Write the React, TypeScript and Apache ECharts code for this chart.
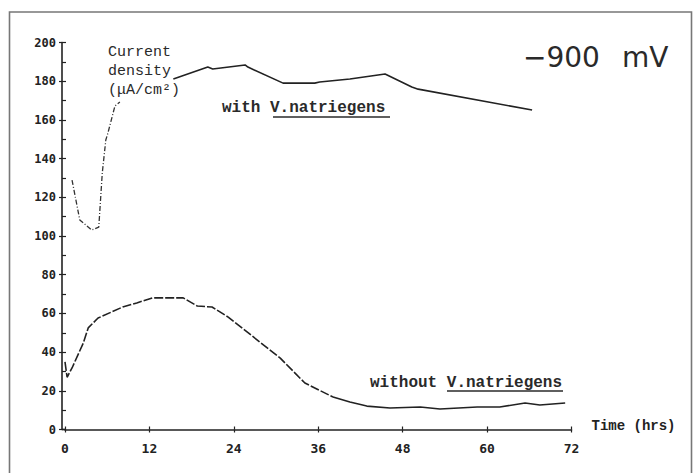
import React, { useEffect, useRef } from "react";
import * as echarts from "echarts";

// Time (hrs) and current density (µA/cm²)
const withTimeDashed = [1.0, 2.1, 3.8, 4.8, 5.3, 5.8, 6.1, 7.1, 7.8];
const withValDashed = [128.9, 108.3, 103.1, 104.6, 132.6, 149.6, 153.2, 167.2, 169.2];
const withTimeSolid = [15.4, 20.3, 21.0, 25.6, 26.0, 31.0, 35.5, 36.2, 40.5, 45.5, 49.3, 50.2, 66.4];
const withValSolid = [181.1, 187.3, 186.3, 188.4, 187.3, 179.0, 179.0, 179.6, 181.1, 183.7, 177.0, 175.9, 165.1];

const withoutTimeDashed = [0.0, 0.3, 1.0, 2.6, 3.3, 4.7, 8.2, 10.2, 12.4, 14.5, 16.8, 18.8, 20.9, 23.2, 27.7, 30.6, 34.1, 38.1];
const withoutValDashed = [34.9, 27.0, 31.8, 44.7, 52.5, 57.6, 63.3, 65.4, 68.0, 68.0, 68.0, 63.8, 63.3, 58.1, 45.2, 36.9, 24.0, 16.8];
const withoutTimeSolid = [38.1, 40.5, 42.9, 46.2, 50.5, 53.3, 58.6, 61.8, 65.4, 67.5, 71.1];
const withoutValSolid = [16.8, 14.2, 12.1, 11.1, 11.6, 10.6, 11.6, 11.6, 13.7, 12.7, 13.7];

const xTicks = [0, 12, 24, 36, 48, 60, 72];
const yTicks = [0, 20, 40, 60, 80, 100, 120, 140, 160, 180, 200];

const pairs = (xs: number[], ys: number[]) => xs.map((x, i) => [x, ys[i]]);

const MONO = "'DejaVu Sans Mono', monospace";
const COURIER = "'Liberation Mono', monospace";
const INK = "#222";

export default function App() {
  const ref = useRef<HTMLDivElement>(null);
  useEffect(() => {
    if (!ref.current) return;
    const chart = echarts.init(ref.current, undefined, { renderer: "svg" });
    const lineBase = { type: "line", showSymbol: false, symbol: "none", smooth: false, silent: true };
    chart.setOption({
      animation: false,
      backgroundColor: "#ffffff",
      grid: { left: 65, right: 121.5, top: 42.5, bottom: 43.5, containLabel: false },
      xAxis: [
        {
          type: "value",
          min: xTicks[0],
          max: xTicks[xTicks.length - 1],
          interval: 12,
          splitLine: { show: false },
          axisLine: { show: true, onZero: false, lineStyle: { color: INK, width: 1.6 } },
          axisTick: { show: true, length: 3, lineStyle: { color: INK, width: 1.2 } },
          axisLabel: { margin: 12, color: INK, fontFamily: MONO, fontSize: 13, fontWeight: "bold" },
          name: "Time (hrs)",
          nameLocation: "end",
          nameGap: 20,
          nameTextStyle: { color: INK, fontFamily: COURIER, fontSize: 14, fontWeight: "bold", verticalAlign: "bottom", padding: [0, 0, -3, 0] },
        },
        {
          type: "value",
          min: 0,
          max: 72,
          interval: 12,
          position: "bottom",
          splitLine: { show: false },
          axisLine: { show: false, onZero: false },
          axisTick: { show: true, inside: true, length: 3, lineStyle: { color: INK, width: 1.2 } },
          axisLabel: { show: false },
        },
      ],
      yAxis: [
        {
          type: "value",
          min: 0,
          max: 200,
          interval: 20,
          offset: 3,
          splitLine: { show: false },
          axisLine: { show: true, onZero: false, lineStyle: { color: INK, width: 1.6 } },
          axisTick: { show: true, length: 3, lineStyle: { color: INK, width: 1.2 } },
          axisLabel: {
            margin: 6,
            color: INK,
            fontFamily: MONO,
            fontSize: 12,
            fontWeight: "bold",
            formatter: (v: number) => (yTicks.includes(v) ? String(v) : ""),
          },
        },
        {
          type: "value",
          min: 0,
          max: 200,
          interval: 10,
          offset: 3,
          position: "left",
          splitLine: { show: false },
          axisLine: { show: false, onZero: false },
          axisTick: { show: true, inside: true, length: 4, lineStyle: { color: INK, width: 1.2 } },
          axisLabel: { show: false },
        },
      ],
      series: [
        {
          ...lineBase,
          name: "with V.natriegens (early)",
          data: pairs(withTimeDashed, withValDashed),
          lineStyle: { color: "#333", width: 1.3, type: [5, 2, 1, 2] },
        },
        {
          ...lineBase,
          name: "with V.natriegens",
          data: pairs(withTimeSolid, withValSolid),
          lineStyle: { color: INK, width: 1.6, type: "solid" },
        },
        {
          ...lineBase,
          name: "without V.natriegens (early)",
          data: pairs(withoutTimeDashed, withoutValDashed),
          lineStyle: { color: INK, width: 1.6, type: [9, 2] },
        },
        {
          ...lineBase,
          name: "without V.natriegens",
          data: pairs(withoutTimeSolid, withoutValSolid),
          lineStyle: { color: INK, width: 1.6, type: "solid" },
        },
      ],
      graphic: [
        {
          type: "rect",
          shape: { x: 9.5, y: 12, width: 682, height: 480 },
          style: { fill: "none", stroke: "#777", lineWidth: 1.6 },
          silent: true,
        },
        {
          type: "line",
          shape: { x1: 62, y1: 429.5, x2: 66, y2: 429.5 },
          style: { stroke: INK, lineWidth: 1.6 },
          silent: true,
        },
        {
          type: "text",
          left: 108,
          top: 43,
          style: {
            text: "Current\ndensity\n(μA/cm²)",
            fontFamily: COURIER,
            fontSize: 15,
            lineHeight: 19,
            fill: "#2a2a2a",
          },
          silent: true,
        },
        {
          type: "text",
          left: 523,
          top: 43,
          style: { text: "−900", fontFamily: "'DejaVu Sans', sans-serif", fontSize: 28, fill: "#2a2a2a" },
          silent: true,
        },
        {
          type: "text",
          left: 622,
          top: 43,
          style: { text: "mV", fontFamily: "'DejaVu Sans', sans-serif", fontSize: 28, fill: "#2a2a2a" },
          silent: true,
        },
        {
          type: "text",
          left: 222,
          top: 100,
          style: { text: "with V.natriegens", fontFamily: COURIER, fontSize: 16, fontWeight: "bold", fill: "#2a2a2a" },
          silent: true,
        },
        {
          type: "line",
          shape: { x1: 273, y1: 117, x2: 390, y2: 117 },
          style: { stroke: "#2a2a2a", lineWidth: 1.6 },
          silent: true,
        },
        {
          type: "text",
          left: 370,
          top: 375,
          style: { text: "without V.natriegens", fontFamily: COURIER, fontSize: 16, fontWeight: "bold", fill: "#2a2a2a" },
          silent: true,
        },
        {
          type: "line",
          shape: { x1: 447, y1: 391, x2: 563, y2: 391 },
          style: { stroke: "#2a2a2a", lineWidth: 1.6 },
          silent: true,
        },
      ],
    });
    return () => chart.dispose();
  }, []);
  return (
    <div
      ref={ref}
      style={{ position: "fixed", left: 0, top: 0, width: 693, height: 473, background: "#fff" }}
    />
  );
}
